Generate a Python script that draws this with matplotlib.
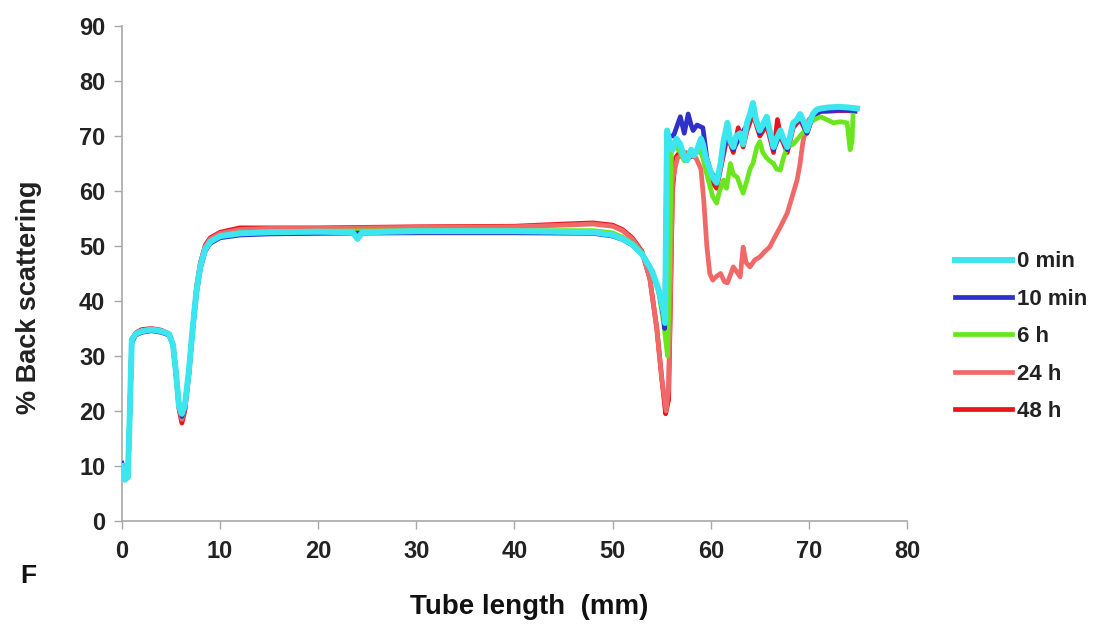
import matplotlib
matplotlib.use("Agg")
import matplotlib.pyplot as plt

plt.rcParams['font.family'] = ['Liberation Sans', 'DejaVu Sans']

# series labels and colours
labels = ["0 min", "10 min", "6 h", "24 h", "48 h"]
colors = ["#3CE6EE", "#2F2FCC", "#6AE61E", "#F06868", "#E8141E"]

# tube length (mm) / back scattering (%)
x_0min = [0, 0.3, 0.6, 0.8, 1.0, 1.4, 2, 3, 4, 4.8, 5.2, 5.5, 5.8, 6.1, 6.4, 6.8, 7.2, 7.6, 8, 8.5, 9, 10,
          12, 15, 20, 23.5, 24, 24.5, 30, 40, 48, 50, 51, 52, 53, 54, 54.7, 55.2, 55.35, 55.45, 55.55,
          55.8, 56.1, 56.5, 56.9, 57.3, 57.6, 58.0, 58.3, 58.6, 59.0, 59.2, 59.5, 59.9, 60.2, 60.6, 61.0,
          61.3, 61.7, 62.0, 62.3, 62.6, 63, 63.3, 63.7, 64.0, 64.3, 64.6, 65, 65.3, 65.7, 66.0, 66.4,
          66.7, 67.1, 67.4, 67.8, 68.1, 68.4, 68.8, 69.1, 69.5, 69.8, 70.1, 70.4, 70.8, 71.2, 72, 73,
          74, 74.9]
y_0min = [10, 7.5, 8, 20, 33, 34, 34.5, 34.8, 34.5, 34, 32, 27, 21, 19.5, 21, 27, 35, 42, 46.5, 49.5, 50.8,
          51.8, 52.3, 52.5, 52.6, 52.5, 51.3, 52.5, 52.7, 52.7, 52.5, 52, 51.3, 50.3, 48.5, 45.5, 42, 38,
          36, 55, 71, 69, 67.5, 69.5, 68.5, 66, 65.6, 67.5, 66.5, 67.5, 69.5, 68.5, 66, 64, 62.5, 61.5,
          65, 69, 72.4, 69, 68, 70, 70.5, 68.5, 72.4, 74, 76, 73, 71, 72, 73.5, 71, 68, 69.5, 71, 69.5,
          68, 70, 72.4, 73, 74, 72.5, 71, 72.5, 74, 74.8, 75, 75.2, 75.3, 75.2, 75]

x_10min = [0, 0.3, 0.6, 0.8, 1.0, 1.4, 2, 3, 4, 4.8, 5.2, 5.5, 5.8, 6.1, 6.4, 6.8, 7.2, 7.6, 8, 8.5, 9, 10,
           12, 15, 20, 30, 40, 48, 50, 51, 52, 53, 54, 54.7, 55.2, 55.3, 55.45, 55.55, 56.2, 56.6, 56.9,
           57.3, 57.7, 58.0, 58.2, 58.6, 59.2, 59.6, 60.0, 60.6, 61.0, 61.7, 62.3, 63, 63.7, 64.3, 65,
           65.7, 66.4, 67.1, 67.8, 68.4, 69.1, 69.8, 70.4, 71.2, 72, 73, 74, 74.7]
y_10min = [10.5, 7.8, 8.2, 20, 32.5, 33.8, 34.3, 34.6, 34.3, 33.8, 32, 27, 21.5, 19, 20.5, 26.5, 34.5, 41.5,
           46, 49.2, 50.5, 51.5, 52, 52.2, 52.3, 52.4, 52.4, 52.3, 51.8, 51.2, 50.2, 48.5, 45.5, 42, 37,
           35, 55, 70, 70, 72, 73.5, 70.5, 74, 72, 71, 72, 71.5, 66, 63.5, 62, 64.5, 71, 67.5, 70, 72, 75,
           70.5, 73, 67.5, 70.5, 67.5, 72, 73.5, 70.5, 73.8, 74.5, 74.6, 74.7, 74.7, 74.6]

x_6h = [0, 0.3, 0.6, 0.8, 1.0, 1.4, 2, 3, 4, 4.8, 5.2, 5.5, 5.8, 6.1, 6.4, 6.8, 7.2, 7.6, 8, 8.5, 9, 10,
        12, 15, 20, 30, 40, 48, 50, 51, 52, 53, 54, 54.7, 55.2, 55.6, 55.8, 56.0, 56.5, 56.9, 57.3, 57.6,
        58.0, 58.6, 59.0, 59.2, 59.6, 59.9, 60.2, 60.6, 60.9, 61.3, 61.6, 62, 62.3, 62.7, 63, 63.3, 63.7,
        64.0, 64.3, 64.7, 65, 65.3, 65.7, 66.0, 66.4, 66.7, 67.1, 67.4, 67.8, 68.4, 69.1, 69.6, 70.1,
        70.6, 71.2, 71.8, 72.5, 73.2, 73.9, 74.2, 74.4, 74.5]
y_6h = [10, 7.6, 8, 20, 32.8, 34, 34.4, 34.7, 34.4, 33.9, 32, 27, 21, 19, 20.8, 27, 35, 42, 46.5, 49.5, 50.8,
        51.8, 52.4, 52.6, 52.7, 52.8, 52.8, 52.8, 52.4, 51.6, 50.5, 48.7, 45.5, 41.5, 36, 30, 45, 68, 68,
        67, 65.5, 66, 66.5, 67, 67.5, 66, 63, 61, 59, 57.8, 60, 62, 60.5, 65, 63, 62.5, 61, 59.6, 62,
        64, 65, 68, 69, 67, 66, 65.5, 65, 64, 63.8, 66, 68, 68.5, 70, 71, 72.4, 73, 73.5, 73, 72.4, 72.6,
        72.4, 67.5, 69, 74]

x_24h = [0, 0.3, 0.6, 0.8, 1.0, 1.4, 2, 3, 4, 4.8, 5.2, 5.5, 5.8, 6.1, 6.4, 6.8, 7.2, 7.6, 8, 8.5, 9, 10,
         12, 15, 20, 30, 40, 45, 48, 50, 51, 52, 53, 53.8, 54.5, 55, 55.45, 55.7, 55.9, 56.1, 56.6, 57.5,
         58.5, 59, 59.3, 59.6, 59.9, 60.2, 60.6, 61, 61.4, 61.7, 62.3, 63, 63.3, 63.6, 64, 64.5, 65, 65.5,
         66, 66.5, 67.1, 67.8, 68.4, 68.8, 69.1, 69.4, 70, 71, 72, 73, 74, 74.8]
y_24h = [10, 7.5, 8, 20, 33, 34, 34.6, 34.9, 34.6, 34, 32, 27, 21, 18.5, 20.5, 27, 35, 42.5, 47, 50, 51.3,
         52.3, 53, 53.2, 53.2, 53.4, 53.5, 53.8, 54, 53.6, 52.8, 51.3, 48.8, 44, 35, 26, 20, 24, 42, 62,
         66, 67, 66, 64, 58, 50, 45, 43.8, 44.5, 45, 43.5, 43.3, 46.2, 44.4, 49.8, 47, 46.2, 47.5, 48, 49,
         49.8, 51.5, 53.5, 56, 59.6, 62, 65, 69, 73, 74.5, 75, 75, 75, 75]

x_48h = [0, 0.3, 0.6, 0.8, 1.0, 1.4, 2, 3, 4, 4.8, 5.2, 5.5, 5.8, 6.1, 6.4, 6.8, 7.2, 7.6, 8, 8.5, 9, 10,
         12, 20, 30, 40, 45, 48, 50, 51, 52, 53, 53.8, 54.5, 55, 55.4, 55.7, 55.9, 56.1, 56.4, 57, 57.7,
         58.3, 58.8, 59.5, 60, 60.6, 61, 61.7, 62.3, 62.8, 63.3, 63.7, 64.3, 65, 65.7, 66.4, 66.8, 67.1,
         67.8, 68.4, 69.1, 69.8, 70.4, 71.2, 72, 73, 74, 74.7]
y_48h = [10.2, 7.6, 8, 20, 33, 34.2, 34.8, 35, 34.7, 34, 32, 26.5, 20.5, 17.8, 20, 26.5, 35, 42.5, 47, 50.2,
         51.5, 52.5, 53.3, 53.3, 53.5, 53.6, 54, 54.2, 53.8, 53, 51.5, 49, 44, 35, 26, 19.5, 22, 40, 60, 66,
         67.5, 66, 66.5, 68, 65, 62, 60.5, 64, 70, 67, 71.5, 68, 71, 74, 70, 72, 67, 73, 70, 67, 71.5, 73,
         70.5, 73.5, 74.5, 74.5, 74.6, 74.6, 74.5]

xs = [x_0min, x_10min, x_6h, x_24h, x_48h]
ys = [y_0min, y_10min, y_6h, y_24h, y_48h]
widths = [4.3, 3.4, 3.4, 3.4, 3.4]

fig = plt.figure(figsize=(11.01, 6.33), dpi=100)
fig.patch.set_facecolor("white")
ax = fig.add_axes([0.1108, 0.1769, 0.713, 0.782])

# 0 min on top, 48 h underneath
handles = []
for i in range(len(labels)):
    h, = ax.plot(xs[i], ys[i], color=colors[i], lw=widths[i], label=labels[i],
                 zorder=10 - i, solid_joinstyle="round")
    handles.append(h)

ax.set_xlim(0, 80)
ax.set_ylim(0, 90)
ax.set_xticks(range(0, 81, 10))
ax.set_yticks(range(0, 91, 10))
for s in ["top", "right"]:
    ax.spines[s].set_visible(False)
for s in ["left", "bottom"]:
    ax.spines[s].set_color("#A8A8A8")
    ax.spines[s].set_linewidth(1.2)
ax.tick_params(axis="both", direction="out", length=6, width=1, color="#A8A8A8",
               labelsize=17, labelcolor="#222222")
ax.tick_params(axis="x", pad=8)
ax.tick_params(axis="y", pad=6)
for lab in ax.get_xticklabels() + ax.get_yticklabels():
    lab.set_fontweight("bold")

fig.text(0.026, 0.53, "% Back scattering", rotation=90, ha="center", va="center",
         fontsize=19.5, fontweight="bold", color="#222222")
fig.text(0.481, 0.041, "Tube length  (mm)", ha="center", va="center",
         fontsize=20, fontweight="bold", color="#111111")
fig.text(0.026, 0.09, "F", ha="center", va="center", fontsize=19, fontweight="bold", color="#111111")

leg = fig.legend(handles, labels, loc="center left", bbox_to_anchor=(0.857, 0.468), frameon=False,
                 borderpad=0, handlelength=2.6, handletextpad=0.2, labelspacing=0.74,
                 prop={"weight": "bold", "size": 16})
for t in leg.get_texts():
    t.set_color("#222222")

fig.savefig("out.png", dpi=100, facecolor="white")
